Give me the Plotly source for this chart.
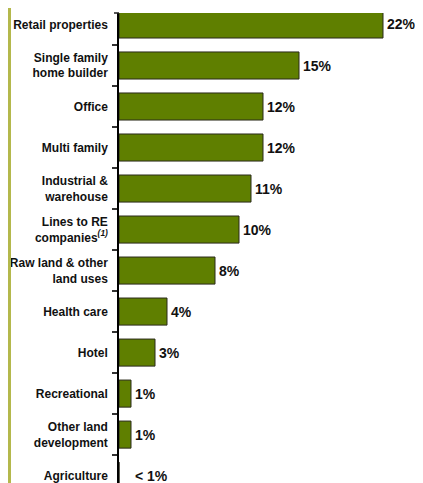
import plotly.graph_objects as go

categories = [
    "Retail properties",
    "Single family<br>home builder",
    "Office",
    "Multi family",
    "Industrial &<br>warehouse",
    "Lines to RE<br>companies<sup><i>(1)</i></sup>",
    "Raw land & other<br>land uses",
    "Health care",
    "Hotel",
    "Recreational",
    "Other land<br>development",
    "Agriculture",
]
values = [22, 15, 12, 12, 11, 10, 8, 4, 3, 1, 1, 0]
labels = ["22%", "15%", "12%", "12%", "11%", "10%", "8%", "4%", "3%", "1%", "1%", "< 1%"]

# page body adds an 8px margin and the right edge is clipped, so size the figure to what shows
W, H = 407, 475
ml, mt = 111, 5
plot_w = W - ml
px_per_pct = 12.0

fig = go.Figure()
fig.add_trace(go.Bar(
    x=values,
    y=categories,
    orientation="h",
    marker=dict(color="#5f7f00", line=dict(color="#2a2a1a", width=1)),
    hoverinfo="skip",
))

# value labels to the right of each bar
for cat, v, lab in zip(categories, values, labels):
    fig.add_annotation(x=max(v, 1), y=cat, text="<b>" + lab + "</b>",
                       showarrow=False, xanchor="left", xshift=2,
                       font=dict(family="Liberation Sans, Arial", size=14, color="#111"))

# olive stripe on the left edge
fig.add_shape(type="rect", xref="paper", yref="paper",
              x0=-ml / plot_w, x1=-(ml - 3) / plot_w, y0=-0.05, y1=1.1,
              fillcolor="#b4b84c", line=dict(width=0), layer="above")
# small tick at the top of the axis
fig.add_shape(type="line", xref="paper", yref="paper",
              x0=-5 / plot_w, x1=0, y0=1, y1=1,
              line=dict(color="#222", width=1.5))

fig.update_layout(
    width=W, height=H,
    margin=dict(l=ml, r=0, t=mt, b=0, autoexpand=False),
    plot_bgcolor="white", paper_bgcolor="white",
    bargap=0.34,
    showlegend=False,
    font=dict(family="Liberation Sans, Arial", color="#111"),
)
fig.update_xaxes(range=[0, plot_w / px_per_pct], visible=False)
fig.update_yaxes(
    type="category",
    range=[11.18, -0.28],
    automargin=False,
    showline=True, linecolor="#000", linewidth=1.5,
    ticks="outside", tickson="boundaries", ticklen=5, tickcolor="#333", tickwidth=1.5,
    tickfont=dict(family="Liberation Sans, Arial", size=12, color="#111"),
    ticklabelstandoff=7,
    showgrid=False,
)
fig.update_yaxes(tickvals=categories, ticktext=["<b>" + c + "</b>" for c in categories])

fig.write_html("out.html")
